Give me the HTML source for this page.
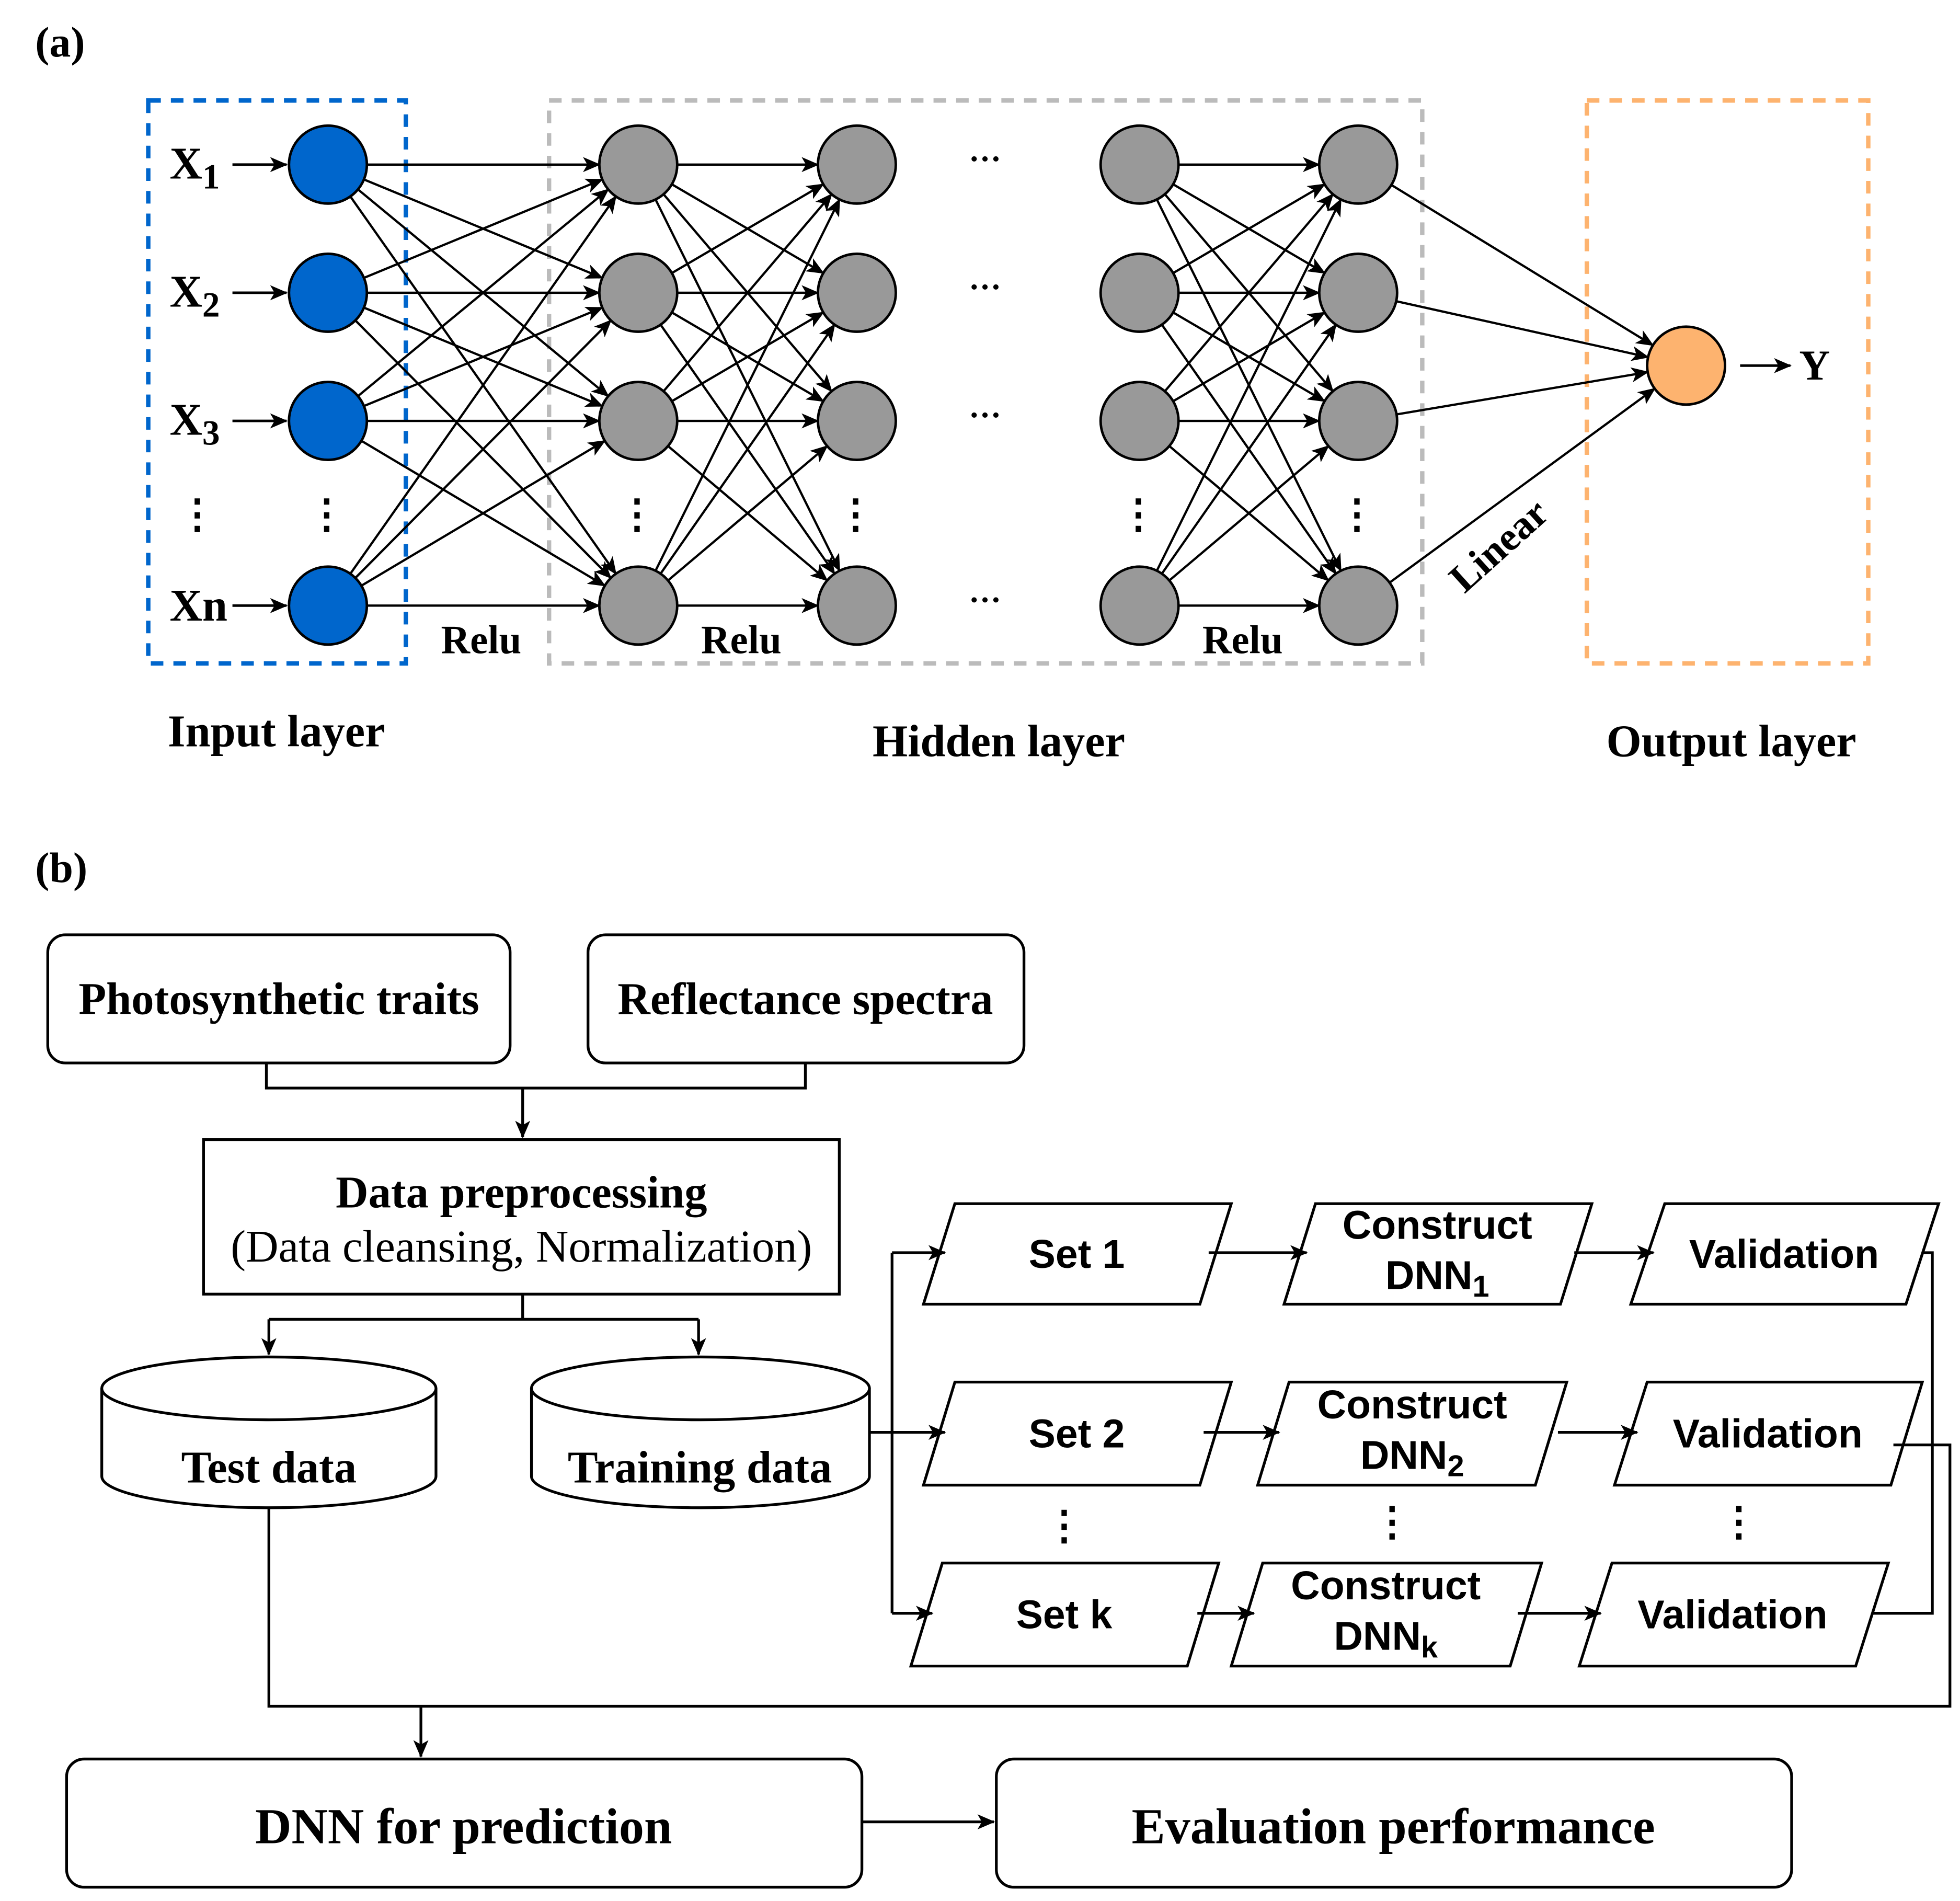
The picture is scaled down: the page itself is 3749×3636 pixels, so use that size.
<!DOCTYPE html>
<html><head><meta charset="utf-8"><style>
html,body{margin:0;padding:0;background:#fff;}
svg{display:block;}
.s{font-family:"Liberation Serif",serif;font-weight:bold;}
.n{font-family:"Liberation Serif",serif;}
.a{font-family:"Liberation Sans",sans-serif;font-weight:bold;}
</style></head><body>
<svg id="sv" width="3749" height="3636" viewBox="0 0 1560 1513" xmlns="http://www.w3.org/2000/svg">
<defs>
<marker id="ar" markerWidth="14" markerHeight="12" refX="13" refY="6" orient="auto" markerUnits="userSpaceOnUse">
<path d="M0,0 L14,6 L0,12 L3.5,6 Z" fill="#000"/></marker>
</defs>
<rect width="1560" height="1513" fill="#fff"/>
<text x="28" y="45" class="s" font-size="34">(a)</text>
<rect x="118" y="80" width="205" height="448" fill="none" stroke="#0066CC" stroke-width="3.5" stroke-dasharray="10,8"/>
<rect x="437" y="80" width="695" height="448" fill="none" stroke="#BBBBBB" stroke-width="3.5" stroke-dasharray="10,8"/>
<rect x="1263" y="80" width="224" height="448" fill="none" stroke="#FDB36F" stroke-width="3.5" stroke-dasharray="10,8"/>
<g id="lines" stroke="#000" stroke-width="1.8" fill="none"></g>
<g id="nodes" stroke="#000" stroke-width="2"></g>
<g class="s" font-size="36">
<text x="135" y="142">X<tspan font-size="28" dy="8">1</tspan></text>
<text x="135" y="244">X<tspan font-size="28" dy="8">2</tspan></text>
<text x="135" y="346">X<tspan font-size="28" dy="8">3</tspan></text>
<text x="135" y="494">Xn</text>
<text x="1432" y="302" font-size="34">Y</text>
</g>
<g stroke="#000" stroke-width="2" marker-end="url(#ar)">
<line x1="185" y1="131" x2="228" y2="131"/><line x1="185" y1="233" x2="228" y2="233"/>
<line x1="185" y1="335" x2="228" y2="335"/><line x1="185" y1="482" x2="228" y2="482"/>
<line x1="1385" y1="291" x2="1425" y2="291"/>
</g>
<g class="s" font-size="32" text-anchor="middle">
<text x="157" y="420">⋮</text><text x="260" y="420">⋮</text><text x="507" y="420">⋮</text>
<text x="681" y="420">⋮</text><text x="906" y="420">⋮</text><text x="1080" y="420">⋮</text>
<text x="784" y="135" font-size="26">···</text><text x="784" y="237" font-size="26">···</text>
<text x="784" y="339" font-size="26">···</text><text x="784" y="486" font-size="26">···</text>
</g>
<g class="s" font-size="32" text-anchor="middle">
<text x="383" y="520">Relu</text><text x="590" y="520">Relu</text><text x="989" y="520">Relu</text>
<text transform="translate(1200,442) rotate(-42)">Linear</text>
</g>
<g class="s" font-size="36" text-anchor="middle">
<text x="220" y="594">Input layer</text><text x="795" y="602">Hidden layer</text><text x="1378" y="602">Output layer</text>
</g>

<text x="28" y="702" class="s" font-size="34">(b)</text>
<g stroke="#000" stroke-width="2.2" fill="#fff">
<rect x="38" y="744" width="368" height="102" rx="14"/>
<rect x="468" y="744" width="347" height="102" rx="14"/>
<rect x="162" y="907" width="506" height="123"/>
<rect x="53" y="1400" width="633" height="102" rx="14"/>
<rect x="793" y="1400" width="633" height="102" rx="14"/>
<path d="M81,1105 L81,1175 A133,25 0 0 0 347,1175 L347,1105"/>
<ellipse cx="214" cy="1105" rx="133" ry="25"/>
<path d="M423,1105 L423,1175 A134.5,25 0 0 0 692,1175 L692,1105"/>
<ellipse cx="557.5" cy="1105" rx="134.5" ry="25"/>
<polygon points="760,958 980,958 955,1038 735,1038"/>
<polygon points="1047,958 1267,958 1242,1038 1022,1038"/>
<polygon points="1325,958 1543,958 1517,1038 1298,1038"/>
<polygon points="760,1100 980,1100 955,1182 735,1182"/>
<polygon points="1026,1100 1247,1100 1222,1182 1001,1182"/>
<polygon points="1311,1100 1530,1100 1505,1182 1285,1182"/>
<polygon points="750,1244 970,1244 945,1326 725,1326"/>
<polygon points="1005,1244 1227,1244 1202,1326 980,1326"/>
<polygon points="1283,1244 1503,1244 1477,1326 1257,1326"/>
</g>
<g stroke="#000" stroke-width="2.2" fill="none">
<polyline points="212,846 212,866 641,866 641,846"/>
<line x1="416" y1="866" x2="416" y2="905" marker-end="url(#ar)"/>
<line x1="416" y1="1030" x2="416" y2="1050"/>
<line x1="214" y1="1050" x2="556" y2="1050"/>
<polyline points="214,1050 214,1078" marker-end="url(#ar)"/>
<polyline points="556,1050 556,1078" marker-end="url(#ar)"/>
<line x1="692" y1="1140" x2="710" y2="1140"/>
<line x1="710" y1="997" x2="710" y2="1284"/>
<line x1="710" y1="997" x2="752" y2="997" marker-end="url(#ar)"/>
<line x1="710" y1="1140" x2="752" y2="1140" marker-end="url(#ar)"/>
<line x1="710" y1="1284" x2="742" y2="1284" marker-end="url(#ar)"/>
<line x1="962" y1="997" x2="1040" y2="997" marker-end="url(#ar)"/>
<line x1="1253" y1="997" x2="1316" y2="997" marker-end="url(#ar)"/>
<line x1="958" y1="1140" x2="1018" y2="1140" marker-end="url(#ar)"/>
<line x1="1240" y1="1140" x2="1303" y2="1140" marker-end="url(#ar)"/>
<line x1="953" y1="1284" x2="998" y2="1284" marker-end="url(#ar)"/>
<line x1="1208" y1="1284" x2="1274" y2="1284" marker-end="url(#ar)"/>
<polyline points="1530,997 1538,997 1538,1284 1490,1284"/>
<polyline points="1507,1150 1552,1150 1552,1358 214,1358 214,1200"/>
<line x1="335" y1="1358" x2="335" y2="1398" marker-end="url(#ar)"/>
<line x1="686" y1="1450" x2="791" y2="1450" marker-end="url(#ar)"/>
</g>
<g class="s" font-size="36" text-anchor="middle">
<text x="222" y="807">Photosynthetic traits</text>
<text x="641" y="807">Reflectance spectra</text>
<text x="415" y="961">Data preprocessing</text>
<text x="415" y="1004" class="n" font-weight="normal">(Data cleansing, Normalization)</text>
<text x="214" y="1180">Test data</text>
<text x="557" y="1180">Training data</text>
<text x="369" y="1467" font-size="40">DNN for prediction</text>
<text x="1109" y="1467" font-size="40">Evaluation performance</text>
</g>
<g class="a" font-size="32" text-anchor="middle">
<text x="857" y="1009">Set 1</text>
<text x="1144" y="986">Construct</text><text x="1144" y="1026">DNN<tspan font-size="24" dy="6">1</tspan></text>
<text x="1420" y="1009">Validation</text>
<text x="857" y="1152">Set 2</text>
<text x="1124" y="1129">Construct</text><text x="1124" y="1169">DNN<tspan font-size="24" dy="6">2</tspan></text>
<text x="1407" y="1152">Validation</text>
<text x="847" y="1296">Set k</text>
<text x="1103" y="1273">Construct</text><text x="1103" y="1313">DNN<tspan font-size="24" dy="6">k</tspan></text>
<text x="1379" y="1296">Validation</text>
<text x="847" y="1225">⋮</text><text x="1108" y="1222">⋮</text><text x="1384" y="1222">⋮</text>
</g>
</svg>
<script>
(function(){
var NS="http://www.w3.org/2000/svg";
var ys=[131,233,335,482],r=31;
var L=document.getElementById("lines"),N=document.getElementById("nodes");
function ln(x1,y1,x2,y2){var dx=x2-x1,dy=y2-y1,d=Math.sqrt(dx*dx+dy*dy);
var e=document.createElementNS(NS,"line");
e.setAttribute("x1",x1+dx/d*r);e.setAttribute("y1",y1+dy/d*r);
e.setAttribute("x2",x2-dx/d*r);e.setAttribute("y2",y2-dy/d*r);
e.setAttribute("marker-end","url(#ar)");L.appendChild(e);}
[[261,508],[508,682],[907,1081]].forEach(function(p){ys.forEach(function(a){ys.forEach(function(b){ln(p[0],a,p[1],b);});});});
ys.forEach(function(a){ln(1081,a,1342,291);});
function c(x,y,f){var e=document.createElementNS(NS,"ellipse");e.setAttribute("cx",x);e.setAttribute("cy",y);e.setAttribute("rx",r);e.setAttribute("ry",r);e.setAttribute("fill",f);N.appendChild(e);}
ys.forEach(function(y){c(261,y,"#0066CC");[508,682,907,1081].forEach(function(x){c(x,y,"#999999");});});
c(1342,291,"#FDB36F");
})();
</script>
</body></html>
